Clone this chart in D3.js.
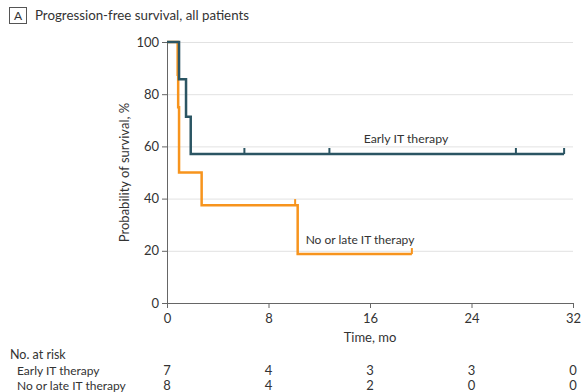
<html>
<head>
<meta charset="utf-8">
<script src="https://d3js.org/d3.v7.min.js"></script>
<style>
  body { margin: 0; background: #fff; }
  text { font-family: Lato, "Open Sans", sans-serif; fill: #333; }
</style>
</head>
<body>
<div id="chart"></div>
<script>
// Kaplan-Meier steps: [time (mo), survival %]
var earlySteps = [[0, 100], [0.95, 85.7], [1.5, 71.4], [1.87, 57.1], [31.3, 57.1]];
var earlyCensor = [[6.1, 57.1], [12.8, 57.1], [27.5, 57.1], [31.3, 57.1]];
var lateSteps = [[0, 100], [0.84, 87.5], [0.88, 75], [0.95, 50], [2.73, 37.5], [10.3, 18.75], [19.3, 18.75]];
var lateCensor = [[10.1, 37.5], [19.3, 18.75]];

var xTicks = [0, 8, 16, 24, 32];
var yTicks = [0, 20, 40, 60, 80, 100];
var riskGroups = ["Early IT therapy", "No or late IT therapy"];
var riskEarly = [7, 4, 3, 3, 0];
var riskLate = [8, 4, 2, 0, 0];

var width = 582, height = 392;
var plotLeft = 167, plotRight = 573, plotTop = 42, plotBottom = 303;
var teal = "#2b5563", orange = "#f7941d";
var fontFam = "Lato, \"Open Sans\", sans-serif";

var svg = d3.select("#chart").append("svg")
    .attr("width", width)
    .attr("height", height);

var xs = d3.scaleLinear().domain([0, 32]).range([plotLeft, plotRight]);
var ys = d3.scaleLinear().domain([0, 100]).range([plotBottom, plotTop]);

// title
svg.append("rect")
    .attr("x", 9.5).attr("y", 7.5).attr("width", 17).attr("height", 16)
    .attr("fill", "none").attr("stroke", "#555").attr("stroke-width", 1);
svg.append("text").attr("x", 18).attr("y", 20).attr("text-anchor", "middle")
    .style("font-size", "12px").text("A");
svg.append("text").attr("x", 35).attr("y", 20)
    .style("font-size", "13.3px").text("Progression-free survival, all patients");

// gridlines
svg.append("g").selectAll("line")
    .data(yTicks.filter(function (d) { return d > 0; }))
    .enter().append("line")
    .attr("x1", plotLeft).attr("x2", plotRight)
    .attr("y1", function (d) { return ys(d) + 0.5; })
    .attr("y2", function (d) { return ys(d) + 0.5; })
    .attr("stroke", "#e2e2e2").attr("stroke-width", 1);

// axes
var yAxis = svg.append("g")
    .attr("transform", "translate(" + plotLeft + ",0)")
    .call(d3.axisLeft(ys).tickValues(yTicks).tickSize(5).tickSizeOuter(0));
var xAxis = svg.append("g")
    .attr("transform", "translate(0," + plotBottom + ")")
    .call(d3.axisBottom(xs).tickValues(xTicks).tickSize(5).tickSizeOuter(0));
[xAxis, yAxis].forEach(function (g) {
    g.select(".domain").attr("stroke", "#666");
    g.selectAll(".tick line").attr("stroke", "#666");
    g.selectAll(".tick text").style("font-size", "13px").attr("fill", "#333")
        .style("font-family", fontFam);
});
xAxis.selectAll(".tick text").attr("dy", "0.9em");

svg.append("text")
    .attr("transform", "translate(129," + ((plotTop + plotBottom) / 2) + ") rotate(-90)")
    .attr("text-anchor", "middle")
    .style("font-size", "13px")
    .text("Probability of survival, %");
svg.append("text")
    .attr("x", xs(16)).attr("y", 342).attr("text-anchor", "middle")
    .style("font-size", "13px").text("Time, mo");

// curves
var stepLine = d3.line()
    .x(function (d) { return xs(d[0]); })
    .y(function (d) { return ys(d[1]); })
    .curve(d3.curveStepAfter);

function drawCurve(steps, censor, color) {
    svg.append("path")
        .attr("d", stepLine(steps))
        .attr("fill", "none").attr("stroke", color).attr("stroke-width", 2.5);
    svg.append("g").selectAll("line")
        .data(censor).enter().append("line")
        .attr("x1", function (d) { return xs(d[0]); })
        .attr("x2", function (d) { return xs(d[0]); })
        .attr("y1", function (d) { return ys(d[1]); })
        .attr("y2", function (d) { return ys(d[1]) - 6; })
        .attr("stroke", color).attr("stroke-width", 2);
}
drawCurve(lateSteps, lateCensor, orange);
drawCurve(earlySteps, earlyCensor, teal);

svg.append("text").attr("x", 406).attr("y", 143).attr("text-anchor", "middle")
    .style("font-size", "12.3px").text("Early IT therapy");
svg.append("text").attr("x", 360).attr("y", 244).attr("text-anchor", "middle")
    .style("font-size", "12px").text("No or late IT therapy");

// number at risk table
svg.append("text").attr("x", 10).attr("y", 359)
    .style("font-size", "12.5px").text("No. at risk");
[riskEarly, riskLate].forEach(function (row, i) {
    var y = 375 + i * 15;
    svg.append("text").attr("x", 17).attr("y", y)
        .style("font-size", "12px").text(riskGroups[i]);
    svg.append("g").selectAll("text")
        .data(row).enter().append("text")
        .attr("x", function (d, j) { return xs(xTicks[j]); })
        .attr("y", y)
        .attr("text-anchor", "middle")
        .style("font-size", "13px")
        .text(function (d) { return d; });
});
</script>
</body>
</html>
